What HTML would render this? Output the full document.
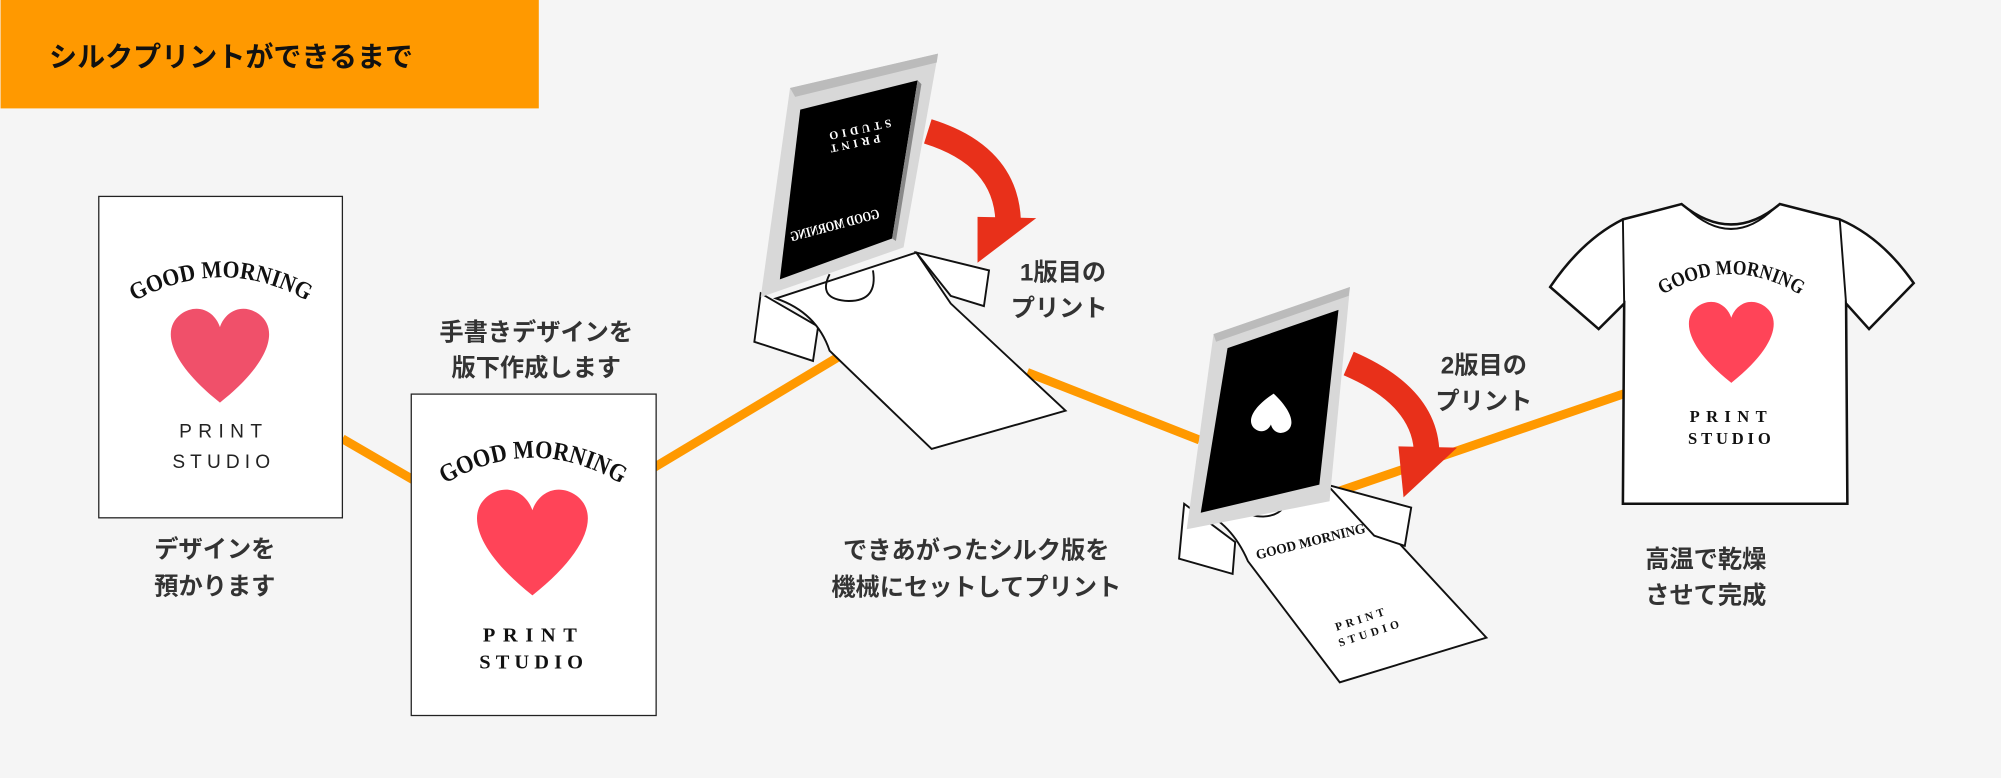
<!DOCTYPE html>
<html><head><meta charset="utf-8"><style>
html,body{margin:0;padding:0;background:#f5f5f5;}
svg{display:block;}
.lb{font-family:"Liberation Sans","Noto Sans CJK JP",sans-serif;font-weight:bold;font-size:19px;fill:#333;text-anchor:middle;}
.gm{font-family:"Liberation Serif",serif;font-weight:bold;}
</style></head><body>
<svg width="2001" height="778" viewBox="0 0 1568 610" xmlns="http://www.w3.org/2000/svg">
<defs>
<path id="h" d="M0,32 C-38,2 -46,-24 -30,-36 C-17,-45 -4,-38 0,-26 C4,-38 17,-45 30,-36 C46,-24 38,2 0,32Z"/>
<path id="a1" d="M90,245 Q175,190 255,245"/>
<path id="a2" d="M335,388 Q418,330 500,388"/>
<path id="a3" d="M1290,240 Q1357,190 1424,240"/>
</defs>
<rect width="1568" height="610" fill="#f5f5f5"/>
<rect x="0" y="0" width="422" height="85" fill="#ff9900"/>
<text x="38" y="52" font-family="'Liberation Sans','Noto Sans CJK JP',sans-serif" font-weight="bold" font-size="22" fill="#111">シルクプリントができるまで</text>

<polyline points="268,344 330,380" stroke="#ff9900" stroke-width="7" fill="none"/>
<polyline points="510,368 660,278" stroke="#ff9900" stroke-width="7" fill="none"/>
<polyline points="805,292 940,345" stroke="#ff9900" stroke-width="7" fill="none"/>
<polyline points="1050,385 1275,308" stroke="#ff9900" stroke-width="7" fill="none"/>

<!-- card 1 -->
<rect x="77" y="154" width="191" height="252" fill="#fff" stroke="#222" stroke-width="1"/>
<text class="gm" font-size="19" fill="#111" textLength="142" lengthAdjust="spacingAndGlyphs"><textPath href="#a1" startOffset="50%" text-anchor="middle">GOOD MORNING</textPath></text>
<use href="#h" transform="translate(172,283) scale(1.02)" fill="#f0506a"/>
<text x="175" y="343" font-family="'Liberation Sans',sans-serif" font-size="15" letter-spacing="5" text-anchor="middle" fill="#222">PRINT</text>
<text x="175" y="367" font-family="'Liberation Sans',sans-serif" font-size="15" letter-spacing="4" text-anchor="middle" fill="#222">STUDIO</text>
<text class="lb" x="168" y="437">デザインを</text>
<text class="lb" x="168" y="466">預かります</text>

<!-- card 2 -->
<rect x="322" y="309" width="192" height="252" fill="#fff" stroke="#222" stroke-width="1"/>
<text class="gm" font-size="20" fill="#111" textLength="146" lengthAdjust="spacingAndGlyphs"><textPath href="#a2" startOffset="50%" text-anchor="middle">GOOD MORNING</textPath></text>
<use href="#h" transform="translate(417,430) scale(1.15)" fill="#ff4458"/>
<text x="418" y="503" class="gm" font-size="16" letter-spacing="6" text-anchor="middle" fill="#111">PRINT</text>
<text x="418" y="524" class="gm" font-size="16" letter-spacing="4" text-anchor="middle" fill="#111">STUDIO</text>
<text class="lb" x="420" y="267">手書きデザインを</text>
<text class="lb" x="420" y="295">版下作成します</text>

<!-- press 1 -->
<polygon points="596,230 591,268 637,283 641,256" fill="#fff" stroke="#111" stroke-width="1.5"/>
<path d="M608,234 Q640,245 650,275 L730,352 L835,322 L745,238 L718,198 Z" fill="#fff" stroke="#111" stroke-width="1.5"/>
<polygon points="718,198 775,212 771,240 745,232" fill="#fff" stroke="#111" stroke-width="1.5"/>
<path d="M650,215 Q640,235 665,236 Q688,236 684,212" fill="none" stroke="#111" stroke-width="1.5"/>
<polygon points="619,69 735,42 708,194 596,233" fill="#d8d8d8"/>
<polygon points="619,69 735,42 734,49 623,76" fill="#bbb"/>
<polygon points="627,86 719,63 699,187 611,219" fill="#000"/>
<polygon points="719,63 722,66 702,189 699,187" fill="#888"/>
<text x="0" y="0" class="gm" font-size="9" fill="#fff" letter-spacing="3" text-anchor="middle" transform="translate(668,110) rotate(168)">PRINT</text>
<text x="0" y="0" class="gm" font-size="9" fill="#fff" letter-spacing="3" text-anchor="middle" transform="translate(672,99) rotate(168)">STUDIO</text>
<text x="0" y="0" class="gm" font-size="11" fill="#fff" text-anchor="middle" textLength="72" lengthAdjust="spacingAndGlyphs" transform="translate(655,180) rotate(-15) scale(-1,1)">GOOD MORNING</text>
<path d="M727,103 Q788,122 790,173" stroke="#e8301a" stroke-width="20" fill="none"/>
<polygon points="766,170 812,171 766,206" fill="#e8301a"/>
<text class="lb" x="833" y="220">1版目の</text>
<text class="lb" x="830" y="248">プリント</text>
<text class="lb" x="765" y="438">できあがったシルク版を</text>
<text class="lb" x="765" y="467">機械にセットしてプリント</text>

<!-- press 2 -->
<polygon points="928,395 924,438 966,450 968,425" fill="#fff" stroke="#111" stroke-width="1.5"/>
<path d="M940,400 Q965,410 978,440 L1050,535 L1165,500 L1080,408 L1040,380 Z" fill="#fff" stroke="#111" stroke-width="1.5"/>
<polygon points="1040,380 1106,398 1101,428 1077,420" fill="#fff" stroke="#111" stroke-width="1.5"/>
<path d="M980,385 Q968,405 990,405 Q1012,404 1008,380" fill="none" stroke="#111" stroke-width="1.5"/>
<text x="0" y="0" class="gm" font-size="11" fill="#111" text-anchor="middle" textLength="88" lengthAdjust="spacingAndGlyphs" transform="translate(1028,428) rotate(-14)">GOOD MORNING</text>
<text x="0" y="0" class="gm" font-size="9" fill="#111" letter-spacing="3" text-anchor="middle" transform="translate(1068,488) rotate(-18)">PRINT</text>
<text x="0" y="0" class="gm" font-size="9" fill="#111" letter-spacing="3" text-anchor="middle" transform="translate(1075,499) rotate(-18)">STUDIO</text>
<polygon points="951,262 1058,225 1042,393 930,415" fill="#d8d8d8"/>
<polygon points="951,262 1058,225 1057,232 953,268" fill="#bbb"/>
<polygon points="962,273 1049,243 1034,380 941,402" fill="#000"/>
<use href="#h" transform="translate(997,322) rotate(185) scale(0.42)" fill="#fff"/>
<path d="M1057,285 Q1115,310 1118,352" stroke="#e8301a" stroke-width="20" fill="none"/>
<polygon points="1096,350 1142,351 1100,390" fill="#e8301a"/>
<text class="lb" x="1163" y="293">2版目の</text>
<text class="lb" x="1163" y="321">プリント</text>

<!-- final T-shirt -->
<path d="M1318,160 L1272,172 Q1240,188 1215,225 L1253,258 L1273,238 L1272,395 L1448,395 L1447,238 L1465,258 L1500,222 Q1475,186 1442,172 L1395,160 Q1357,192 1318,160 Z" fill="#fff" stroke="#111" stroke-width="2"/>
<path d="M1322,163 Q1357,196 1391,163" fill="none" stroke="#111" stroke-width="1.5"/>
<path d="M1272,172 L1273,238 M1442,172 L1447,238" fill="none" stroke="#111" stroke-width="1.5"/>
<text class="gm" font-size="16" fill="#111" textLength="114" lengthAdjust="spacingAndGlyphs"><textPath href="#a3" startOffset="50%" text-anchor="middle">GOOD MORNING</textPath></text>
<use href="#h" transform="translate(1357,272) scale(0.88)" fill="#ff4458"/>
<text x="1357" y="331" class="gm" font-size="13" letter-spacing="5" text-anchor="middle" fill="#111">PRINT</text>
<text x="1357" y="348" class="gm" font-size="13" letter-spacing="3" text-anchor="middle" fill="#111">STUDIO</text>
<text class="lb" x="1337" y="445">高温で乾燥</text>
<text class="lb" x="1337" y="473">させて完成</text>
</svg>
</body></html>
